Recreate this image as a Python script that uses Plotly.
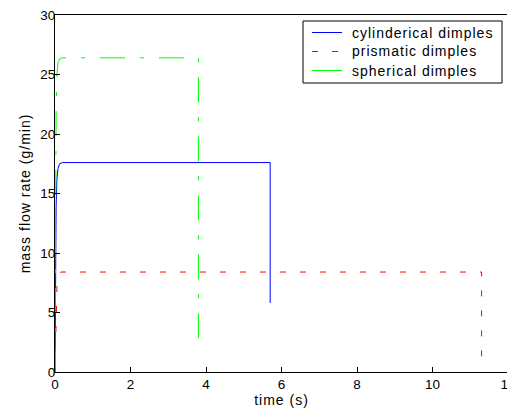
import plotly.graph_objects as go

# data
cyl_t = [0, 0.01, 0.03, 0.05, 0.08, 0.12, 0.2, 5.7, 5.7]
cyl_y = [0, 8, 14, 16.2, 17.1, 17.5, 17.6, 17.6, 5.8]
pri_t = [0, 0.02, 0.05, 0.08, 0.15, 11.3, 11.3]
pri_y = [0, 3.5, 7.0, 8.0, 8.4, 8.4, 0.8]
sph_t = [0, 0.01, 0.03, 0.05, 0.08, 0.12, 0.2, 3.8, 3.8]
sph_y = [0, 12, 22, 25, 26, 26.3, 26.4, 26.4, 1.8]
x_ticks = [0, 2, 4, 6, 8, 10, 12]
y_ticks = [0, 5, 10, 15, 20, 25, 30]
series_names = ["cylinderical dimples", "prismatic dimples", "spherical dimples"]
series_colors = ["#0000ff", "#ff0000", "#00ff00"]
series_dash = ["solid", "6px,14px", "25px,15px,4px,15px"]
legend_dash = ["solid", "6px,14px", "solid"]

SP = "<span style='letter-spacing:1px'>{}</span>"
FONT = dict(family="Arial, Liberation Sans", size=14, color="black")
TICKFONT = dict(family="Arial, Liberation Sans", size=13.5, color="black")

# layout geometry (figure pixels)
W, H = 507, 402
ML, MR, MT, MB = 47, 7, 7, 38
PW, PH = W - ML - MR, H - MT - MB


def px(x):
    return (x - ML) / PW


def py(y):
    return (H - MB - y) / PH


fig = go.Figure()
for t, y, name, col, dash in zip([cyl_t, pri_t, sph_t], [cyl_y, pri_y, sph_y],
                                 series_names, series_colors, series_dash):
    fig.add_trace(go.Scatter(x=t, y=y, mode="lines", name=name, showlegend=False,
                             line=dict(color=col, width=1, dash=dash)))

# legend box drawn in paper coordinates
shapes = [dict(type="rect", xref="paper", yref="paper",
               x0=px(295), x1=px(494), y0=py(75), y1=py(13),
               line=dict(color="black", width=1), fillcolor="white", layer="above")]
annotations = []
row_y = [24.5, 43.5, 62.5]
for ry, name, col, dash in zip(row_y, series_names, series_colors, legend_dash):
    shapes.append(dict(type="line", xref="paper", yref="paper",
                       x0=px(304), x1=px(334), y0=py(ry), y1=py(ry),
                       line=dict(color=col, width=1, dash=dash), layer="above"))
    annotations.append(dict(xref="paper", yref="paper", x=px(342), y=py(ry),
                            xanchor="left", yanchor="middle", showarrow=False,
                            text=SP.format(name), font=FONT))

axis_common = dict(showgrid=False, zeroline=False, showline=True, linecolor="black",
                   linewidth=1, mirror=True, ticks="inside", ticklen=5, tickcolor="black",
                   tickfont=TICKFONT, automargin=False, ticklabeloverflow="allow")
fig.update_xaxes(range=[0, 12], tickvals=x_ticks, **axis_common,
                 title=dict(text=SP.format("time (s)"), font=FONT, standoff=2))
fig.update_yaxes(range=[0, 30], tickvals=y_ticks, ticklabelstandoff=-4, **axis_common,
                 title=dict(text=SP.format("mass flow rate (g/min)"), font=FONT, standoff=6))
fig.update_layout(
    width=W, height=H,
    margin=dict(l=ML, r=MR, t=MT, b=MB),
    paper_bgcolor="white", plot_bgcolor="white",
    showlegend=False,
    shapes=shapes, annotations=annotations,
)
fig.write_html("out.html")
